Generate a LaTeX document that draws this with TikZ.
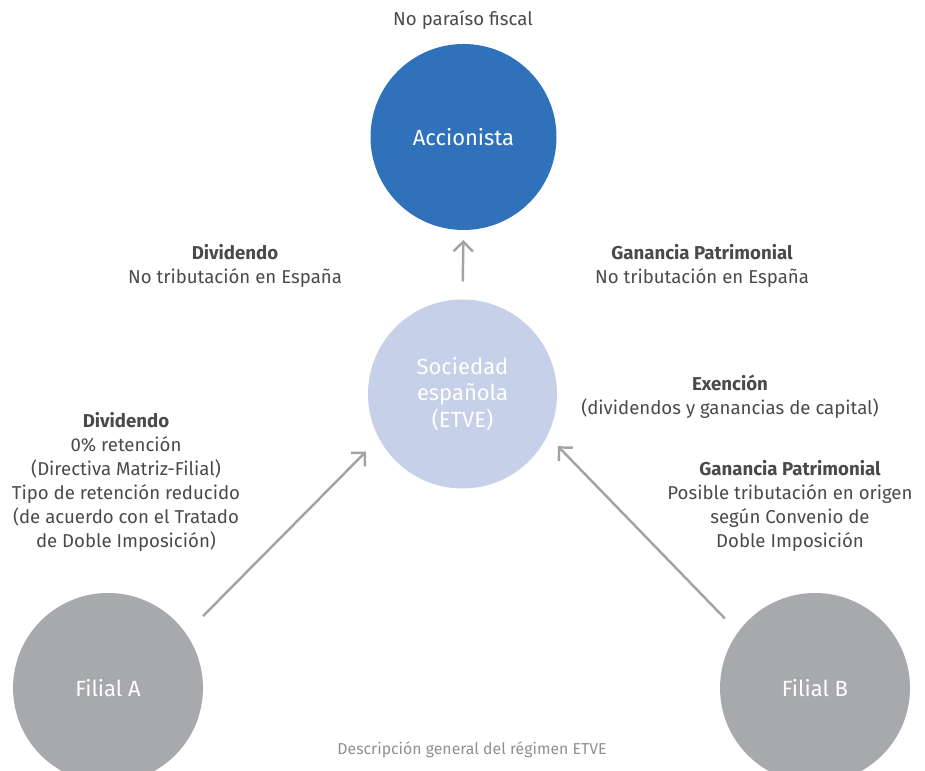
\documentclass[tikz,border=0pt]{standalone}
\usepackage{fontspec}
\setmainfont{Fira Sans}
\usetikzlibrary{arrows.meta}

\definecolor{blauAkt}{HTML}{2F71BA}
\definecolor{blauHell}{HTML}{C6D1E9}
\definecolor{grauFil}{HTML}{A7A9AC}
\definecolor{grauPfeil}{HTML}{A3A3A3}
\definecolor{textDunkel}{HTML}{4A4A4A}

\begin{document}
\begin{tikzpicture}[>={Straight Barb[length=5.5pt,width=11pt]},
  kreis/.style={circle,inner sep=0pt,outer sep=0pt,text=white,align=center,font=\fontsize{12.5}{15}\selectfont},
  fluss/.style={->,color=grauPfeil,line width=1.4pt},
  info/.style={align=center,text=textDunkel,font=\fontsize{10.6}{13.6}\selectfont}]

\useasboundingbox (0,0) rectangle (18.5,15.42);

% Kreise
\node[kreis,fill=blauAkt,minimum size=3.72cm] (accionista) at (9.27,12.68) {Accionista};
\node[kreis,fill=blauHell,minimum size=3.78cm] (sociedad) at (9.25,7.54) {Sociedad\\espa\~nola\\(ETVE)};
\node[kreis,fill=grauFil,minimum size=3.8cm] (filialA) at (2.16,1.66) {Filial A};
\node[kreis,fill=grauFil,minimum size=3.8cm] (filialB) at (16.3,1.66) {Filial B};

% Pfeile
\draw[fluss,shorten <=0.36cm,shorten >=0.2cm] (sociedad.north) -- (accionista.south);
\draw[fluss,shorten <=0.49cm,shorten >=0.37cm] (filialA.35) -- (sociedad.208);
\draw[fluss,shorten <=0.38cm,shorten >=0.3cm] (filialB.144) -- (sociedad.334);

% Beschriftungen oben
\node[info] (paraiso) at (9.26,15.02) {No para\'iso fiscal};
\node[info] (divOben) at (4.7,10.11) {\textbf{Dividendo}\\No tributaci\'on en Espa\~na};
\node[info] (ganOben) at (14.04,10.11) {\textbf{Ganancia Patrimonial}\\No tributaci\'on en Espa\~na};

% Beschriftungen unten
\node[info] (exencion) at (14.6,7.48) {\textbf{Exenci\'on}\\(dividendos y ganancias de capital)};
\node[info] (divUnten) at (2.52,5.78) {\textbf{Dividendo}\\0\% retenci\'on\\(Directiva Matriz-Filial)\\Tipo de retenci\'on reducido\\(de acuerdo con el Tratado\\de Doble Imposici\'on)};
\node[info] (ganUnten) at (15.8,5.3) {\textbf{Ganancia Patrimonial}\\Posible tributaci\'on en origen\\seg\'un Convenio de\\Doble Imposici\'on};

% Titel
\node[text=grauFil!85!black,font=\fontsize{9}{10}\selectfont] (titel) at (9.44,0.42) {Descripci\'on general del r\'egimen ETVE};

\end{tikzpicture}
\end{document}
